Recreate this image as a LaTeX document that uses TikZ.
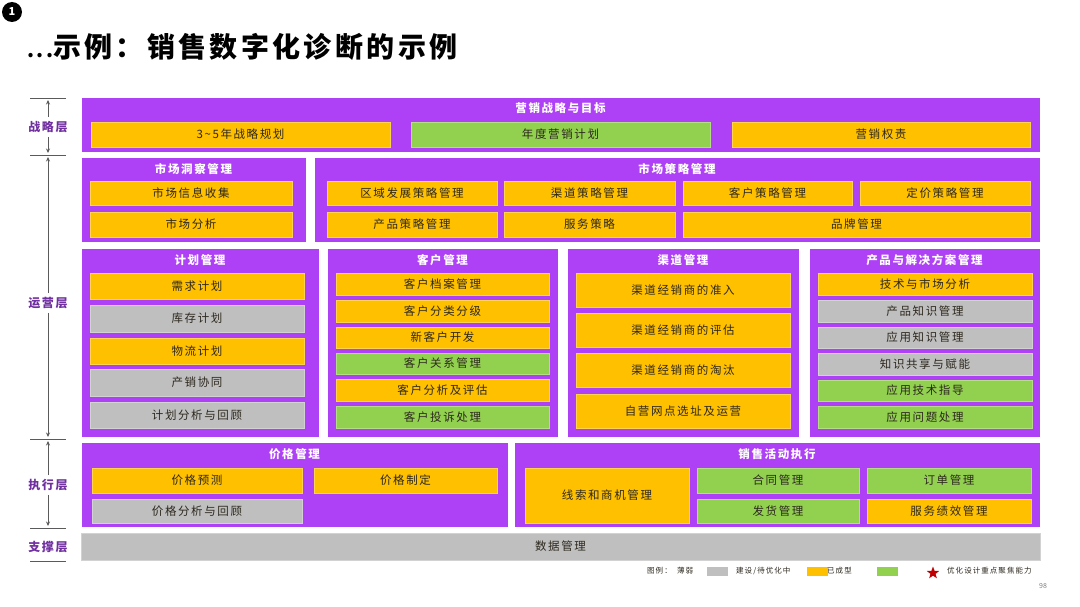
\documentclass[tikz,border=0pt]{standalone}
\usepackage{fontspec}
\setmainfont{Noto Sans CJK SC}
\newfontfamily\cjk{Noto Sans CJK SC}[LetterSpace=14]
\newfontfamily\cjktitle{Noto Sans CJK SC}[LetterSpace=12]
\usetikzlibrary{shapes.geometric,arrows.meta}
\definecolor{pur}{RGB}{174,64,245}
\definecolor{org}{RGB}{255,192,0}
\definecolor{grn}{RGB}{146,208,80}
\definecolor{gry}{RGB}{191,191,191}
\definecolor{txt}{RGB}{45,40,30}
\definecolor{lay}{RGB}{112,48,160}
\definecolor{axis}{RGB}{90,90,90}
\definecolor{starred}{RGB}{192,0,0}
\tikzset{
  panel/.style={fill=pur, draw=white, line width=0.6pt, inner sep=0pt, outer sep=0pt},
  item/.style={draw=#1!70!white, fill=#1, line width=0.7pt, inner sep=0pt, outer sep=0pt, text=txt, font=\cjk\fontsize{11.5}{12}\selectfont},
  ptitle/.style={text=white, font=\cjk\bfseries\fontsize{11.5}{12}\selectfont, inner sep=0pt},
  layer/.style={text=lay, font=\cjk\bfseries\fontsize{12}{13}\selectfont, inner sep=1pt, outer sep=3pt},
  tickline/.style={draw=axis, line width=0.9pt},
  arr/.style={draw=axis, line width=0.8pt, -{Stealth[length=4.5pt,width=4pt]}},
  swatch/.style={fill=#1, draw=none, minimum width=21pt, minimum height=9pt, inner sep=0pt},
  legtext/.style={text=txt, font=\cjk\fontsize{7.5}{8}\selectfont, inner sep=0pt, anchor=west},
}
\newcommand\mybox[7]{%
  \pgfmathsetmacro\bw{#4-#2}\pgfmathsetmacro\bh{#5-#3}%
  \node[item=#6, minimum width=\bw pt, minimum height=\bh pt] (#1) at ({(#2+#4)/2},{(#3+#5)/2}) {#7};%
}
\newcommand\mypanel[7]{%
  \pgfmathsetmacro\bw{#4-#2}\pgfmathsetmacro\bh{#5-#3}%
  \node[panel, minimum width=\bw pt, minimum height=\bh pt] (#1) at ({(#2+#4)/2},{(#3+#5)/2}) {};%
  \node[ptitle] (#1-t) at ({(#2+#4)/2},#6) {#7};%
}
\begin{document}
\begin{tikzpicture}[x=1pt,y=-1pt]
\useasboundingbox[fill=white] (0,0) rectangle (1080,607);

% badge and title
\node[circle, fill=black, minimum size=20pt, inner sep=0pt, text=white, font=\bfseries\fontsize{11}{12}\selectfont] (badge) at (12,12) {1};
\node[anchor=west, inner sep=0pt, text=black, font=\cjktitle\bfseries\fontsize{28}{30}\selectfont] (title) at (27,47) {{\fontsize{20}{22}\selectfont...}示例：销售数字化诊断的示例};

% left axis
\foreach \yy/\nm in {98/t0,155/t1,439/t2,528/t3,561/t4}{
  \coordinate (\nm a) at (30,\yy);
  \coordinate (\nm b) at (66,\yy);
  \draw[tickline] (\nm a) -- (\nm b);
}
\node[layer] (l1) at (48,127) {战略层};
\node[layer] (l2) at (48,303) {运营层};
\node[layer] (l3) at (48,485) {执行层};
\node[layer] (l4) at (48,547) {支撑层};
\coordinate (e1u) at (48,100);
\coordinate (e1d) at (48,153);
\coordinate (e2u) at (48,157);
\coordinate (e2d) at (48,437);
\coordinate (e3u) at (48,441);
\coordinate (e3d) at (48,526);
\draw[arr] (l1.north) -- (e1u);
\draw[arr] (l1.south) -- (e1d);
\draw[arr] (l2.north) -- (e2u);
\draw[arr] (l2.south) -- (e2d);
\draw[arr] (l3.north) -- (e3u);
\draw[arr] (l3.south) -- (e3d);

% P1
\mypanel{p1}{81}{97}{1040}{152}{108}{营销战略与目标}
\mybox{a1}{91}{122}{390}{147}{org}{3\textasciitilde5年战略规划}
\mybox{a2}{411}{122}{710}{147}{grn}{年度营销计划}
\mybox{a3}{732}{122}{1030}{147}{org}{营销权责}

% P2
\mypanel{p2}{81}{157}{306}{242}{169}{市场洞察管理}
\mybox{b1}{90}{181}{292}{205}{org}{市场信息收集}
\mybox{b2}{90}{212}{292}{237}{org}{市场分析}

% P3
\mypanel{p3}{314}{157}{1040}{242}{169}{市场策略管理}
\mybox{c1}{327}{181}{497}{205}{org}{区域发展策略管理}
\mybox{c2}{504}{181}{675}{205}{org}{渠道策略管理}
\mybox{c3}{683}{181}{852}{205}{org}{客户策略管理}
\mybox{c4}{860}{181}{1030}{205}{org}{定价策略管理}
\mybox{c5}{327}{212}{497}{237}{org}{产品策略管理}
\mybox{c6}{504}{212}{675}{237}{org}{服务策略}
\mybox{c7}{683}{212}{1030}{237}{org}{品牌管理}

% P4
\mypanel{p4}{81}{248}{319}{437}{260}{计划管理}
\mybox{d1}{90}{273}{304}{299}{org}{需求计划}
\mybox{d2}{90}{305}{304}{332}{gry}{库存计划}
\mybox{d3}{90}{338}{304}{364}{org}{物流计划}
\mybox{d4}{90}{369}{304}{396}{gry}{产销协同}
\mybox{d5}{90}{402}{304}{428}{gry}{计划分析与回顾}

% P5
\mypanel{p5}{327}{248}{558}{437}{260}{客户管理}
\mybox{e1}{336}{273}{549}{295}{org}{客户档案管理}
\mybox{e2}{336}{300}{549}{322}{org}{客户分类分级}
\mybox{e3}{336}{327}{549}{348}{org}{新客户开发}
\mybox{e4}{336}{353}{549}{374}{grn}{客户关系管理}
\mybox{e5}{336}{379}{549}{401}{org}{客户分析及评估}
\mybox{e6}{336}{406}{549}{428}{grn}{客户投诉处理}

% P6
\mypanel{p6}{567}{248}{799}{437}{260}{渠道管理}
\mybox{f1}{576}{273}{790}{307}{org}{渠道经销商的准入}
\mybox{f2}{576}{313}{790}{347}{org}{渠道经销商的评估}
\mybox{f3}{576}{353}{790}{387}{org}{渠道经销商的淘汰}
\mybox{f4}{576}{394}{790}{428}{org}{自营网点选址及运营}

% P7
\mypanel{p7}{809}{248}{1040}{437}{260}{产品与解决方案管理}
\mybox{g1}{818}{273}{1032}{295}{org}{技术与市场分析}
\mybox{g2}{818}{300}{1032}{322}{gry}{产品知识管理}
\mybox{g3}{818}{327}{1032}{348}{gry}{应用知识管理}
\mybox{g4}{818}{353}{1032}{375}{gry}{知识共享与赋能}
\mybox{g5}{818}{380}{1032}{401}{grn}{应用技术指导}
\mybox{g6}{818}{406}{1032}{428}{grn}{应用问题处理}

% P8
\mypanel{p8}{81}{442}{508}{527}{454}{价格管理}
\mybox{h1}{92}{468}{302}{493}{org}{价格预测}
\mybox{h2}{314}{468}{497}{493}{org}{价格制定}
\mybox{h3}{92}{499}{302}{523}{gry}{价格分析与回顾}

% P9
\mypanel{p9}{514}{442}{1040}{527}{454}{销售活动执行}
\mybox{i1}{525}{468}{689}{523}{org}{线索和商机管理}
\mybox{i2}{697}{468}{859}{493}{grn}{合同管理}
\mybox{i3}{867}{468}{1031}{493}{grn}{订单管理}
\mybox{i4}{697}{499}{859}{523}{grn}{发货管理}
\mybox{i5}{867}{499}{1031}{523}{org}{服务绩效管理}

% data bar
\mybox{j1}{81}{533}{1040}{560}{gry}{数据管理}

% legend
\node[legtext] (lg0) at (647,571) {图例：};
\node[legtext] (lg1) at (677,571) {薄弱};
\node[swatch=gry] (sw1) at (717,571) {};
\node[legtext] (lg2) at (736,571) {建设/待优化中};
\node[swatch=org] (sw2) at (817,571) {};
\node[legtext] (lg3) at (827,571) {已成型};
\node[swatch=grn] (sw3) at (887,571) {};
\node[star, star points=5, star point ratio=2.4, fill=starred, minimum size=13pt, inner sep=0pt] (st) at (933,573) {};
\node[legtext] (lg4) at (947,571) {优化设计重点聚焦能力};
\node[text=gray, font=\fontsize{7}{8}\selectfont, inner sep=0pt] (pg) at (1043,586) {98};
\end{tikzpicture}
\end{document}
